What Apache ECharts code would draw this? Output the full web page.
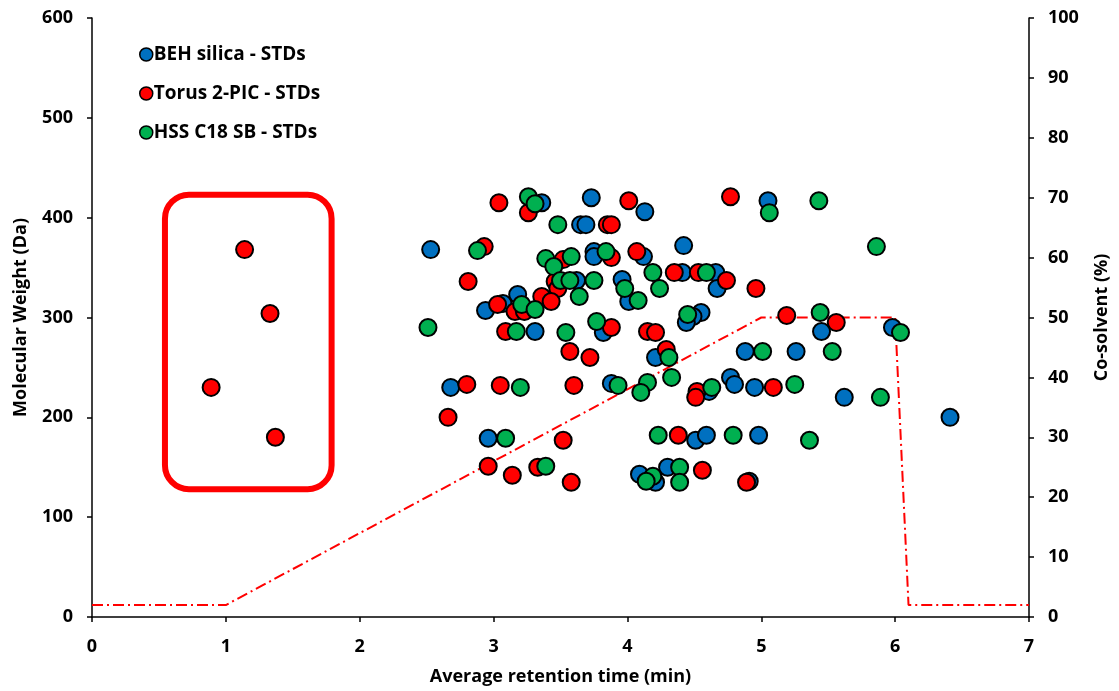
<!DOCTYPE html>
<html><head><meta charset="utf-8">
<script src="https://cdn.jsdelivr.net/npm/echarts@6/dist/echarts.min.js"></script>
<style>html,body{margin:0;padding:0;background:#fff}#c{width:1119px;height:691px}</style>
</head><body><div id="c"></div>
<script>
const behX = [2.53,3.36,3.65,3.69,3.73,3.75,3.75,3.62,3.18,2.94,3.07,3.31,4.13,5.05,4.42,4.12,4.41,4.66,4.67,3.96,4.01,4.55,4.49,3.82,4.44,2.68,2.96,4.21,4.88,3.88,4.61,4.77,4.80,4.95,4.51,4.59,4.98,4.09,4.21,4.30,4.91,5.45,5.98,5.26,5.62,6.41];
const behY = [368,415,393,393,420,366,361,337,323,307,314,286,406,417,372,361,345,345,329,338,316,305,301,285,295,230,179,260,266,234,226,240,233,230,177,182,182,143,135,150,136,286,290,266,220,200];
const torX = [1.14,1.33,0.89,1.37,3.04,3.26,2.93,2.81,3.52,3.46,3.48,3.36,3.43,3.03,3.16,3.23,3.09,4.01,4.77,3.85,3.88,3.88,4.07,4.35,4.53,4.74,4.96,3.88,4.15,4.21,3.57,3.72,2.80,3.05,3.60,2.66,3.52,2.96,3.14,3.33,3.58,4.29,4.52,4.51,5.09,4.38,4.56,4.89,5.19,5.56];
const torY = [368,304,230,180,415,405,371,336,358,336,329,321,316,313,306,306,286,417,421,393,393,360,366,345,345,337,329,290,286,285,266,260,233,232,232,200,177,151,142,150,135,268,226,220,230,182,147,135,302,295];
const hssX = [3.26,3.31,3.48,2.88,3.39,3.45,3.58,3.50,3.57,3.75,3.64,3.21,3.31,2.51,3.17,3.54,3.77,5.06,3.84,4.19,4.59,3.98,4.24,4.08,4.45,3.20,3.09,3.39,4.31,5.01,3.93,4.15,4.10,4.33,4.63,4.23,4.79,4.19,4.14,4.39,4.39,5.43,5.86,5.44,6.04,5.53,5.25,5.89,5.36];
const hssY = [421,414,393,367,359,351,361,337,337,337,321,313,308,290,286,285,296,405,366,345,345,329,329,317,303,230,179,151,260,266,232,235,225,240,230,182,182,141,136,150,135,417,371,305,285,266,233,220,177];
const gradX = [0,1,5,6,6.1,7];
const gradY = [2,2,50,50,2,2];
const boxX = [0.545,1.79];
const boxY = [128,423];
const seriesNames = ['BEH silica - STDs','Torus 2-PIC - STDs','HSS C18 SB - STDs'];

const zip = (a,b)=>a.map((v,i)=>[v,b[i]]);
const FONT = '"Open Sans"';
const lab = {color:'#000',fontWeight:'bold',fontSize:18,fontFamily:FONT};
const chart = echarts.init(document.getElementById('c'));
function sc(name,xs,ys,color){
  return {name,type:'scatter',xAxisIndex:0,yAxisIndex:0,data:zip(xs,ys),symbol:'circle',symbolSize:17,
    itemStyle:{color,borderColor:'#000',borderWidth:2,opacity:1},z:3};
}
chart.setOption({
  animation:false,
  grid:{left:92,right:86,top:18,bottom:73},
  legend:{data:seriesNames,orient:'vertical',left:134,top:40,itemWidth:13,itemHeight:13,itemGap:20,
    textStyle:{color:'#000',fontWeight:'bold',fontSize:19,fontFamily:FONT,padding:[0,0,0,-4]},itemStyle:{borderColor:'#000',borderWidth:1.5}},
  xAxis:{type:'value',min:0,max:7,interval:1,name:'Average retention time (min)',nameLocation:'middle',nameGap:51,
    nameTextStyle:lab,axisLabel:{...lab,margin:21},splitLine:{show:false},
    axisLine:{onZero:false,lineStyle:{color:'#000',width:1.5}},axisTick:{inside:false,length:5,lineStyle:{color:'#000',width:1.5}}},
  yAxis:[
    {type:'value',min:0,max:600,interval:100,name:'Molecular Weight (Da)',nameLocation:'middle',nameGap:62,nameRotate:90,
     nameTextStyle:lab,axisLabel:{...lab,margin:19},splitLine:{show:false},
     axisLine:{show:true,lineStyle:{color:'#000',width:1.5}},axisTick:{show:true,length:5,lineStyle:{color:'#000',width:1.5}}},
    {type:'value',min:0,max:100,interval:10,position:'right',name:'Co-solvent (%)',nameLocation:'middle',nameGap:64,nameRotate:90,
     nameTextStyle:lab,axisLabel:{...lab,margin:19},splitLine:{show:false},
     axisLine:{show:true,lineStyle:{color:'#000',width:1.5}},axisTick:{show:true,length:5,lineStyle:{color:'#000',width:1.5}}}
  ],
  series:[
    {name:'gradient',type:'line',xAxisIndex:0,yAxisIndex:1,data:zip(gradX,gradY),showSymbol:false,symbol:'none',
      lineStyle:{color:'#FF0000',width:2,type:[11,4,2,4]},z:1},
    sc(seriesNames[0],behX,behY,'#0070C0'),
    sc(seriesNames[1],torX,torY,'#FF0000'),
    sc(seriesNames[2],hssX,hssY,'#00B050')
  ]
});
const p1 = chart.convertToPixel({xAxisIndex:0,yAxisIndex:0},[boxX[0],boxY[1]]);
const p2 = chart.convertToPixel({xAxisIndex:0,yAxisIndex:0},[boxX[1],boxY[0]]);
chart.setOption({graphic:[{type:'rect',shape:{x:p1[0],y:p1[1],width:p2[0]-p1[0],height:p2[1]-p1[1],r:24},
  style:{fill:'none',stroke:'#FF0000',lineWidth:6},z:0}]});
</script></body></html>
